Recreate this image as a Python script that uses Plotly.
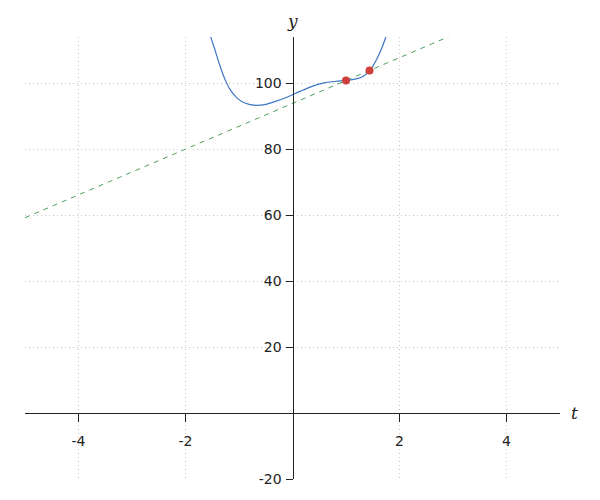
import plotly.graph_objects as go

# Curve samples
curve_t = [-1.56, -1.52, -1.44, -1.35, -1.25, -1.16, -1.03, -0.88, -0.69, -0.50, -0.32, -0.13, 0.04,
           0.15, 0.34, 0.59, 0.83, 1.02, 1.21, 1.33, 1.45, 1.55, 1.64, 1.73, 1.76]
curve_y = [115.5, 113.6, 109.6, 105.0, 100.7, 97.9, 95.4, 93.9, 93.3, 93.6, 94.5, 95.6, 96.8,
           97.6, 98.9, 100.1, 100.6, 100.9, 101.4, 102.2, 103.9, 106.5, 109.5, 113.3, 115.0]

# Secant points
pts_t = [1.0, 1.44]
pts_y = [100.8, 103.85]

# Secant line through the two points, drawn across the t range
line_t = [-5, 5]
slope = (pts_y[1] - pts_y[0]) / (pts_t[1] - pts_t[0])
line_y = [pts_y[0] + slope * (t - pts_t[0]) for t in line_t]

x_ticks = [-4, -2, 2, 4]
y_ticks = [-20, 20, 40, 60, 80, 100]
x_range = [-5, 5]
y_range = [-20, 114]

fig = go.Figure()
fig.add_trace(go.Scatter(x=line_t, y=line_y, mode="lines",
                         line=dict(color="#4c9f5c", width=1, dash="5px,5px")))
fig.add_trace(go.Scatter(x=curve_t, y=curve_y, mode="lines",
                         line=dict(color="#3b76c4", width=1.2, shape="spline", smoothing=0.5)))
fig.add_trace(go.Scatter(x=pts_t, y=pts_y, mode="markers",
                         marker=dict(color="#cc3f3a", size=8)))

y0_frac = (0 - y_range[0]) / (y_range[1] - y_range[0])
x0_frac = (0 - x_range[0]) / (x_range[1] - x_range[0])

fig.update_layout(
    width=600, height=500,
    margin=dict(l=17, r=48, t=29, b=29, autoexpand=False),
    plot_bgcolor="white", paper_bgcolor="white",
    showlegend=False,
    font=dict(family="DejaVu Sans", size=14, color="#222"),
    xaxis=dict(range=x_range, tickvals=x_ticks, ticktext=[str(v) for v in x_ticks],
               tickfont=dict(family="DejaVu Sans", size=14, color="#222"),
               anchor="free", position=y0_frac, showline=True, linecolor="#222", linewidth=1,
               ticks="outside", ticklen=8, tickcolor="#222", ticklabelstandoff=7,
               showgrid=True, gridcolor="#c8c8c8", griddash="1px,3px", gridwidth=1,
               zeroline=False, automargin=False),
    yaxis=dict(range=y_range, tickvals=y_ticks, ticktext=[str(v) for v in y_ticks],
               tickfont=dict(family="DejaVu Sans", size=14, color="#222"),
               anchor="free", position=x0_frac, showline=True, linecolor="#222", linewidth=1,
               ticks="outside", ticklen=7, tickcolor="#222", ticklabelstandoff=1,
               showgrid=True, gridcolor="#c8c8c8", griddash="1px,3px", gridwidth=1,
               zeroline=False, automargin=False),
    annotations=[
        dict(text="<i>y</i>", x=0, y=1, xref="x", yref="paper", xanchor="center", yanchor="bottom",
             yshift=4, showarrow=False, font=dict(family="DejaVu Serif", size=17, color="#222")),
        dict(text="<i>t</i>", x=1, y=0, xref="paper", yref="y", xanchor="left", yanchor="middle",
             xshift=9, showarrow=False, font=dict(family="DejaVu Serif", size=17, color="#222")),
    ],
)

fig.write_html("out.html")
